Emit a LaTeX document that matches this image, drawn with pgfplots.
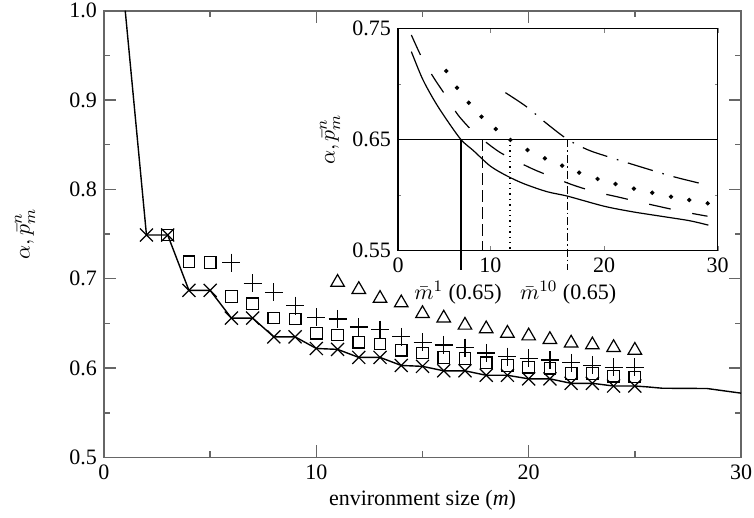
\documentclass[border=0pt]{standalone}
\usepackage{fontspec}
\setmainfont{Liberation Serif}
\usepackage{pgfplots}
\pgfplotsset{compat=1.18}
\begin{document}
\begin{tikzpicture}[font=\fontsize{11}{13}\selectfont]
% main axis
\begin{axis}[
    scale only axis, width=318.5pt, height=223.4pt,
    at={(0,0)}, anchor=south west,
    xmin=0, xmax=30, ymin=0.5, ymax=1.0,
    xtick={0,10,20,30}, minor xtick={5,15,25},
    ytick={0.5,0.6,0.7,0.8,0.9,1.0}, minor ytick={0.55,0.65,0.75,0.85,0.95},
    tick align=inside, major tick length=6pt, minor tick length=3pt,
    axis line style={draw=black!60, line width=0.9pt},
    tick style={draw=black!60, line width=0.7pt},
    /pgf/number format/assume math mode=true,
    yticklabel style={/pgf/number format/.cd, fixed, fixed zerofill, precision=1},
    xlabel={environment size (\textit{m})},
    ylabel={$\alpha, \bar{p}_m^n$},
    xlabel style={at={(axis description cs:0.5,-0.0951)}, anchor=center},
    ylabel style={at={(axis description cs:-0.124,0.5)}, anchor=center},
]
% alpha
\addplot[black, line width=0.7pt] coordinates {
    (1,1.0) (2,0.749) (3,0.749) (4,0.687) (5,0.687) (6,0.656) (7,0.656)
    (8,0.635) (9,0.635) (10,0.622) (11,0.621) (12,0.612) (13,0.612)
    (14,0.603) (15,0.602) (16,0.597) (17,0.597) (18,0.592) (19,0.592)
    (20,0.588) (21,0.588) (22,0.583) (23,0.583) (24,0.580) (25,0.580)
    (25.6,0.579) (26.3,0.5775) (28.4,0.5772) (30,0.572)
};
% crosses
\addplot[only marks, mark=x, mark size=4.6pt, mark options={line width=0.6pt}] coordinates {
    (2,0.749) (3,0.749) (4,0.687) (5,0.687) (6,0.656) (7,0.656)
    (8,0.635) (9,0.635) (10,0.622) (11,0.621) (12,0.612) (13,0.612)
    (14,0.603) (15,0.602) (16,0.597) (17,0.597) (18,0.592) (19,0.592)
    (20,0.588) (21,0.588) (22,0.583) (23,0.583) (24,0.580) (25,0.580)
};
% squares
\addplot[only marks, mark=square, mark size=2.9pt, mark options={line width=0.6pt}] coordinates {
    (3,0.749) (4,0.719) (5,0.718) (6,0.680) (7,0.672) (8,0.656) (9,0.655)
    (10,0.639) (11,0.637) (12,0.629) (13,0.627) (14,0.620) (15,0.617)
    (16,0.612) (17,0.611) (18,0.606) (19,0.603) (20,0.601) (21,0.600)
    (22,0.594) (23,0.594) (24,0.591) (25,0.590)
};
% plus
\addplot[only marks, mark=+, mark size=4.5pt, mark options={line width=0.6pt}] coordinates {
    (6,0.718) (7,0.695) (8,0.685) (9,0.670) (10,0.657) (11,0.655)
    (12,0.646) (13,0.643) (14,0.635) (15,0.629) (16,0.626) (17,0.623)
    (18,0.617) (19,0.613) (20,0.611) (21,0.609) (22,0.606) (23,0.603)
    (24,0.601) (25,0.601)
};
% triangles
\addplot[only marks, mark=triangle, mark size=3.9pt, mark options={line width=0.6pt}] coordinates {
    (11,0.696) (12,0.688) (13,0.678) (14,0.673) (15,0.661) (16,0.656)
    (17,0.648) (18,0.644) (19,0.639) (20,0.636) (21,0.632) (22,0.628)
    (23,0.626) (24,0.623) (25,0.620)
};
\end{axis}
% inset
\begin{axis}[
    scale only axis, width=159.85pt, height=111.2pt,
    at={(147pt,103.4pt)}, anchor=south west,
    xmin=1.865, xmax=30, ymin=0.55, ymax=0.75,
    xtick={1.865,10,20,30}, xticklabels={0,10,20,30},
    ytick={0.55,0.65,0.75}, yticklabels={0.55,0.65,0.75},
    minor ytick={0.6,0.7},
    tick align=inside, major tick length=2.5pt, minor tick length=1.5pt,
    axis background/.style={fill=white},
    axis line style={line width=0.7pt},
    clip=false,
    ylabel={$\alpha, \bar{p}_m^n$},
    ylabel style={at={(axis description cs:-0.2127,0.5)}, anchor=center},
]
\addplot[black, line width=0.8pt] coordinates {(1.865,0.65) (30,0.65)};
% solid
\addplot[black, line width=0.6pt, smooth] coordinates {
    (3.04,0.729) (4,0.705) (5,0.686) (6,0.670) (7.4,0.650) (8.5,0.640)
    (10,0.626) (11.5,0.617) (13,0.610) (15,0.603) (16.8,0.599) (20,0.590)
    (22.5,0.585) (25,0.581) (27.5,0.577) (29.18,0.573)
};
% dashed
\addplot[black, line width=0.6pt, smooth, dash pattern=on 11pt off 11pt] coordinates {
    (3.04,0.744) (3.92,0.7245) (4.95,0.7065) (6.12,0.6885) (7.15,0.672)
    (8.47,0.657) (9.30,0.650) (10.97,0.6376) (13.61,0.624) (15.37,0.6166)
    (17.28,0.609) (19.19,0.603) (21.1,0.5986) (23.01,0.594) (24.92,0.5896)
    (26.98,0.585) (29.1,0.581)
};
% dotted
\addplot[only marks, mark=*, mark size=0.9pt] coordinates {
    (6.12,0.7116) (7.06,0.6966) (8.09,0.6831) (9.21,0.6705) (10.47,0.6594)
    (11.76,0.6496) (13.26,0.6406) (14.79,0.6331) (16.31,0.6265) (17.81,0.6202)
    (19.43,0.6145) (21.01,0.610) (22.63,0.6058) (24.24,0.6022) (25.89,0.5986)
    (27.5,0.5956) (29.12,0.5926)
};
% dash-dot
\addplot[black, line width=0.6pt, smooth, dash pattern=on 13pt off 5pt on 0.8pt off 5pt] coordinates {
    (11.32,0.6921) (13.17,0.6795) (14.93,0.6645) (16.8,0.650) (18.6,0.6406)
    (20.51,0.634) (23.15,0.6256) (26.09,0.6166) (29.18,0.6088)
};
% thresholds
\addplot[black, line width=0.8pt] coordinates {(7.4,0.65) (7.4,0.533)};
\addplot[black, line width=0.7pt, dash pattern=on 6pt off 2.5pt] coordinates {(9.3,0.65) (9.3,0.55)};
\addplot[black, line width=0.7pt, dotted] coordinates {(11.72,0.65) (11.72,0.55)};
\addplot[black, line width=0.7pt, dash pattern=on 4pt off 1.5pt on 0.8pt off 1.5pt] coordinates {(16.8,0.65) (16.8,0.533)};
\node[anchor=center, inner sep=0.5pt] at (axis cs:7.15,0.55) [yshift=-21pt] {$\bar{m}^1$ (0.65)};
\node[anchor=center, inner sep=0.5pt] at (axis cs:16.84,0.55) [yshift=-21pt] {$\bar{m}^{10}$ (0.65)};
\end{axis}
\pgfresetboundingbox
\path[use as bounding box] (-52pt,-30.25pt) rectangle ++(377pt,259pt);
\end{tikzpicture}
\end{document}
